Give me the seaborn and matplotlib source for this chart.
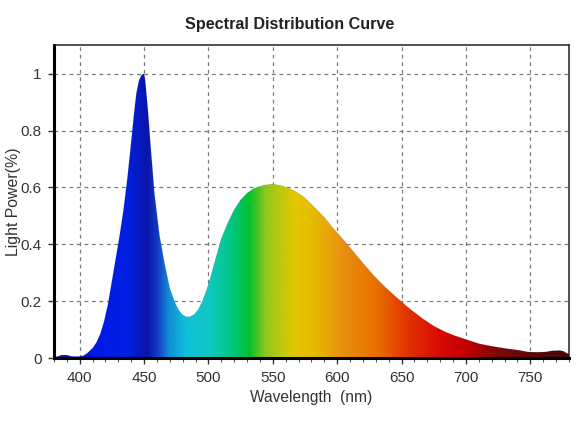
"""Spectral distribution curve of a white LED, filled with a wavelength gradient."""

import matplotlib
matplotlib.use("Agg")
import matplotlib.pyplot as plt
import numpy as np
import pandas as pd
import seaborn as sns
from matplotlib.colors import LinearSegmentedColormap
from matplotlib.ticker import MultipleLocator, FuncFormatter

# Values
wavelength = [380, 383, 386, 390, 393, 396, 400, 403, 406, 410, 413, 416, 419, 422,
              425, 428, 431, 434, 437, 440, 442, 444, 446, 448, 450, 451, 453, 455,
              458, 462, 466, 470, 474, 477, 480, 483, 486, 489, 492, 495, 498, 501,
              505, 510, 515, 520, 525, 530, 535, 543, 550, 558, 566, 574, 582, 590,
              597, 605, 613, 620, 628, 636, 644, 650, 656, 666, 675, 684, 692, 700,
              710, 720, 731, 741, 748, 755, 762, 767, 773, 776, 778, 780]
light_power = [0.004, 0.006, 0.011, 0.011, 0.007, 0.006, 0.006, 0.009, 0.018, 0.035,
               0.055, 0.085, 0.13, 0.19, 0.27, 0.35, 0.43, 0.52, 0.63, 0.76, 0.85,
               0.93, 0.975, 0.995, 1.0, 0.97, 0.87, 0.75, 0.58, 0.43, 0.33, 0.245,
               0.195, 0.168, 0.152, 0.145, 0.146, 0.154, 0.17, 0.197, 0.232, 0.275,
               0.34, 0.42, 0.475, 0.522, 0.556, 0.58, 0.596, 0.608, 0.612, 0.605,
               0.59, 0.567, 0.532, 0.495, 0.456, 0.415, 0.372, 0.334, 0.292, 0.255,
               0.222, 0.198, 0.175, 0.14, 0.113, 0.092, 0.078, 0.066, 0.051, 0.042,
               0.034, 0.028, 0.022, 0.021, 0.022, 0.026, 0.027, 0.024, 0.018, 0.015]

x_ticks = [400, 450, 500, 550, 600, 650, 700, 750]
y_ticks = [0, 0.2, 0.4, 0.6, 0.8, 1.0]

# Colour stops of the spectrum fill (wavelength, colour)
spectrum_stops = [
    (380, "#101080"), (400, "#0a14b8"), (410, "#0018e8"), (436, "#0020e0"),
    (452, "#0a14a8"), (460, "#1040c0"), (469, "#1090d8"), (482, "#10c0d8"),
    (500, "#10c8c0"), (518, "#00c880"), (531, "#00c030"), (544, "#90c820"),
    (565, "#e0c800"), (580, "#e6bc00"), (604, "#e89010"), (630, "#e87000"),
    (656, "#e03000"), (681, "#d80808"), (702, "#c00000"), (723, "#800808"),
    (747, "#600808"), (780, "#4a0606"),
]

df = pd.DataFrame({"Wavelength": wavelength, "Power": light_power})

sns.set_style("white")
plt.rcParams["font.family"] = ["Liberation Sans", "DejaVu Sans"]

fig = plt.figure(figsize=(5.8, 4.3), dpi=100)
ax = fig.add_axes([0.093, 0.167, 0.888, 0.728])

# Gradient image clipped by the area under the curve
lo, hi = spectrum_stops[0][0], spectrum_stops[-1][0]
cmap = LinearSegmentedColormap.from_list(
    "spectrum", [((w - lo) / (hi - lo), c) for w, c in spectrum_stops])
area = ax.fill_between(df["Wavelength"], df["Power"], 0, color="none", lw=0)
grad = np.linspace(0, 1, 800).reshape(1, -1)
img = ax.imshow(grad, cmap=cmap, aspect="auto", extent=[lo, hi, 0, 1.1],
                origin="lower", zorder=2)
img.set_clip_path(area.get_paths()[0], transform=ax.transData)

sns.lineplot(data=df, x="Wavelength", y="Power", ax=ax, color="#202060",
             lw=0.4, alpha=0.2, zorder=3)

ax.set_xlim(380, 780)
ax.set_ylim(0, 1.1)
ax.set_xticks(x_ticks)
ax.set_yticks(y_ticks)
ax.xaxis.set_minor_locator(MultipleLocator(10))
ax.yaxis.set_major_formatter(FuncFormatter(lambda v, _: f"{v:g}"))
ax.grid(True, which="major", color="#7a7a7a", ls=(0, (3, 3)), lw=0.9, zorder=1)
ax.set_axisbelow(True)

ax.tick_params(axis="both", which="major", direction="out", length=4, width=1,
               color="#333333", labelsize=11, labelcolor="#333333",
               bottom=True, left=True)
ax.tick_params(axis="x", which="major", pad=5)
ax.tick_params(axis="y", which="major", pad=5)
ax.tick_params(axis="x", which="minor", direction="out", length=3, width=0.8,
               color="#555555", bottom=True)

for side in ["left", "bottom"]:
    ax.spines[side].set_linewidth(2.2)
    ax.spines[side].set_color("black")
for side in ["top", "right"]:
    ax.spines[side].set_linewidth(1.1)
    ax.spines[side].set_color("#222222")
    ax.spines[side].set_visible(True)

ax.set_xlabel("Wavelength  (nm)", fontsize=11.2, color="#333333", labelpad=4)
ax.set_ylabel("Light Power(%)", fontsize=11.4, color="#333333")
ax.yaxis.set_label_coords(-0.063, 0.5)
fig.text(0.5, 0.942, "Spectral Distribution Curve", ha="center", va="center",
         fontsize=11.6, fontweight="bold", color="#222222")

fig.savefig("out.png", dpi=100)
